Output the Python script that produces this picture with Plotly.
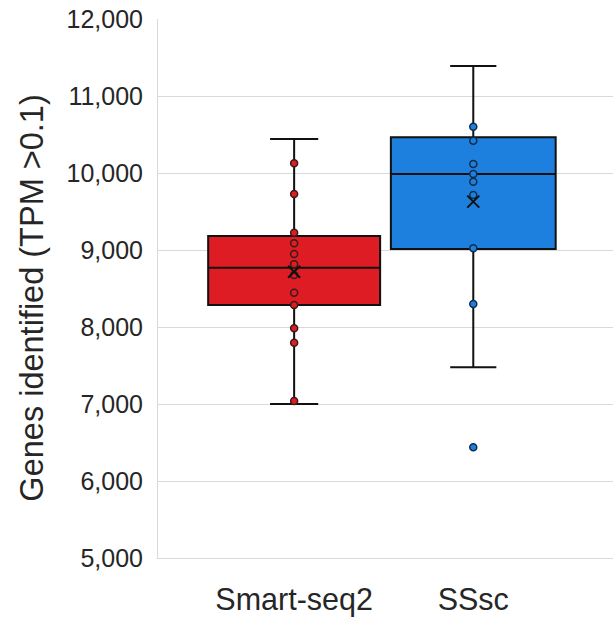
import plotly.graph_objects as go

categories = ["Smart-seq2", "SSsc"]
box_colors = ["#dd1c24", "#1e80de"]

q1 = [8286, 9013]
median = [8770, 9987]
q3 = [9182, 10463]
lowerfence = [7000, 7476]
upperfence = [10442, 11390]
mean = [8718, 9628]

points_smartseq2 = [10126, 9727, 9225, 9087, 8948, 8814, 8675, 8446, 8286, 7983, 7796, 7039]
points_sssc = [10602, 10420, 10117, 9987, 9887, 9714, 9022, 8299, 6438]
points = [points_smartseq2, points_sssc]

y_ticks = [5000, 6000, 7000, 8000, 9000, 10000, 11000, 12000]
y_title = "Genes identified (TPM >0.1)"
box_widths = [0.96, 0.92]

font_family = "Liberation Sans, Arial, sans-serif"
text_color = "#262626"

fig = go.Figure()
for i, cat in enumerate(categories):
    fig.add_trace(go.Box(
        x=[cat], q1=[q1[i]], median=[median[i]], q3=[q3[i]],
        lowerfence=[lowerfence[i]], upperfence=[upperfence[i]],
        fillcolor=box_colors[i], line=dict(color="#111111", width=2),
        width=box_widths[i], whiskerwidth=0.28, boxpoints=False,
        showlegend=False, hoverinfo="skip",
    ))
for i, cat in enumerate(categories):
    fig.add_trace(go.Scatter(
        x=[cat] * len(points[i]), y=points[i], mode="markers",
        marker=dict(size=7, color=box_colors[i], line=dict(color="#3a1a1a" if i == 0 else "#102a4a", width=1.5)),
        showlegend=False,
    ))
    fig.add_trace(go.Scatter(
        x=[cat], y=[mean[i]], mode="markers",
        marker=dict(symbol="x-thin", size=12, line=dict(color="#111111", width=2)),
        showlegend=False,
    ))

fig.update_layout(
    width=613, height=617,
    margin=dict(l=158, r=0, t=19, b=59),
    plot_bgcolor="white", paper_bgcolor="white",
    font=dict(family=font_family, color=text_color),
    annotations=[dict(
        text=y_title, textangle=-90, xref="paper", yref="paper",
        x=-0.277, y=0.483, xanchor="center", yanchor="middle", showarrow=False,
        font=dict(size=32.5, color=text_color),
    )],
)
fig.update_xaxes(
    type="category", categoryorder="array", categoryarray=categories,
    range=[-0.76, 1.78], showgrid=False, showline=True, linecolor="#d9d9d9", linewidth=1,
    tickfont=dict(size=30.5, color=text_color), ticks="", ticklabelstandoff=14,
    automargin=False,
)
fig.update_yaxes(
    range=[5000, 12000], tickvals=y_ticks, tickformat=",",
    showgrid=True, gridcolor="#d9d9d9", gridwidth=1,
    showline=True, linecolor="#d9d9d9", linewidth=1, zeroline=False,
    tickfont=dict(size=25, color=text_color), ticks="", ticklabelstandoff=9,
    ticklabeloverflow="allow", automargin=False,
)

fig.write_html("out.html", config={"displayModeBar": False},
               post_script="document.body.style.margin='0';")
